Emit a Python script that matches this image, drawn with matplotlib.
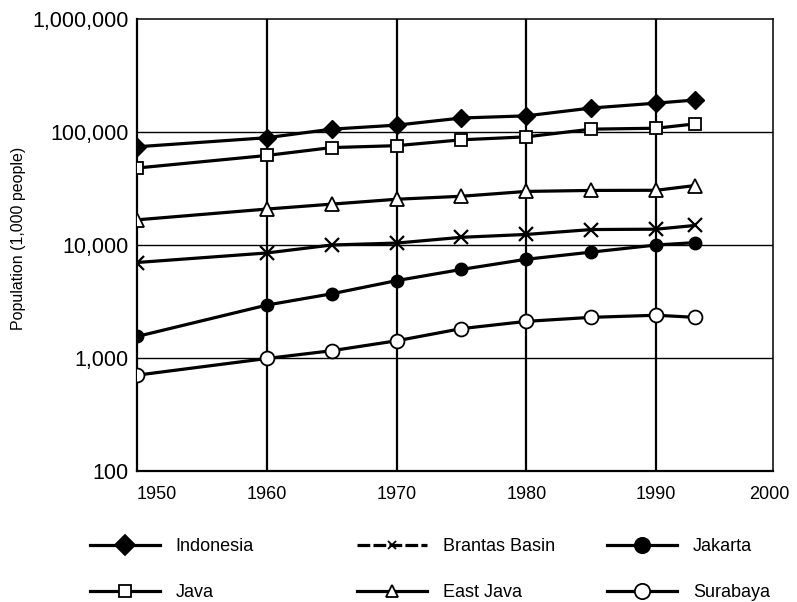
import matplotlib.pyplot as plt
from matplotlib.lines import Line2D
from matplotlib.ticker import FixedLocator, NullLocator

plt.rcParams['font.family'] = ['Liberation Sans', 'DejaVu Sans']

# Dataset (1,000 people)
years = [1950, 1960, 1965, 1970, 1975, 1980, 1985, 1990, 1993]
indonesia = [74000, 89000, 106000, 115000, 133000, 139000, 163000, 180000, 192000]
java = [48000, 62000, 72800, 75700, 85300, 90600, 106000, 108000, 118000]
east_java = [16700, 20800, 23000, 25400, 27000, 29800, 30400, 30500, 33600]
brantas = [7000, 8500, 10000, 10400, 11700, 12400, 13700, 13800, 14900]
jakarta = [1550, 2940, 3700, 4840, 6080, 7480, 8650, 10000, 10500]
surabaya = [705, 990, 1160, 1420, 1820, 2110, 2290, 2390, 2290]

grid_years = [1960, 1970, 1980, 1990]
x_tick_labels = ['1950', '1960', '1970', '1980', '1990', '2000']
y_ticks = [100, 1000, 10000, 100000, 1000000]
y_tick_labels = ['100', '1,000', '10,000', '100,000', '1,000,000']

fig = plt.figure(figsize=(7.97, 6.02), dpi=100)
ax = fig.add_axes([137 / 797, 1 - 471 / 602, (773 - 137) / 797, (471 - 19) / 602])

ax.set_yscale('log')
ax.set_xlim(1950, 1999)
ax.set_ylim(100, 1000000)

# grid
for g in grid_years:
    ax.axvline(g, color='black', lw=1.6, zorder=1)
for v in y_ticks[1:-1]:
    ax.axhline(v, color='black', lw=1.0, zorder=1)

lw = 2.3
ax.plot(years, indonesia, color='black', lw=lw, marker='D', ms=9.5,
        mfc='black', mec='black', label='Indonesia', zorder=3)
ax.plot(years, java, color='black', lw=lw, marker='s', ms=9,
        mfc='white', mec='black', mew=1.3, label='Java', zorder=3)
ax.plot(years, east_java, color='black', lw=lw, marker='^', ms=10.5,
        mfc='white', mec='black', mew=1.3, label='East Java', zorder=3)
ax.plot(years, brantas, color='black', lw=lw, marker='x', ms=10,
        mew=1.6, label='Brantas Basin', zorder=3)
ax.plot(years, jakarta, color='black', lw=lw, marker='o', ms=9,
        mfc='black', mec='black', label='Jakarta', zorder=3)
ax.plot(years, surabaya, color='black', lw=lw, marker='o', ms=10,
        mfc='white', mec='black', mew=1.3, label='Surabaya', zorder=3)

# axes styling
for side in ['left', 'bottom']:
    ax.spines[side].set_linewidth(1.6)
for side in ['top', 'right']:
    ax.spines[side].set_linewidth(1.1)

ax.yaxis.set_major_locator(FixedLocator(y_ticks))
ax.yaxis.set_minor_locator(NullLocator())
ax.set_yticklabels(y_tick_labels, fontsize=15.5)
ax.tick_params(axis='y', length=0, pad=6)

x_tick_pos = [1951.5] + grid_years + [1998.7]
ax.set_xticks(x_tick_pos)
ax.set_xticklabels(x_tick_labels, fontsize=13)
ax.tick_params(axis='x', length=0, pad=11)

ax.set_ylabel('Population (1,000 people)', fontsize=11.5)
ax.yaxis.set_label_coords((26 - 137) / 636, 0.515)

# legend, three columns drawn as separate blocks
def handle(marker, ms, mfc, ls='-'):
    return Line2D([], [], color='black', lw=lw, marker=marker, ms=ms,
                  mfc=mfc, mec='black', mew=1.3, ls=ls)

cols = [
    (90, [(handle('D', 10, 'black'), 'Indonesia'), (handle('s', 9, 'white'), 'Java')]),
    (357, [(handle('x', 6, 'black', ls=(0, (4, 1))), 'Brantas Basin'), (handle('^', 9, 'white'), 'East Java')]),
    (607, [(handle('o', 11, 'black'), 'Jakarta'), (handle('o', 11, 'white'), 'Surabaya')]),
]
for xpix, entries in cols:
    fig.legend(handles=[e[0] for e in entries], labels=[e[1] for e in entries],
               loc='upper left', bbox_to_anchor=(xpix / 797, 1 - 538 / 602),
               frameon=False, borderpad=0, borderaxespad=0, fontsize=13,
               handlelength=3.9, handletextpad=0.85, labelspacing=1.6)

fig.savefig('out.png', dpi=100)
